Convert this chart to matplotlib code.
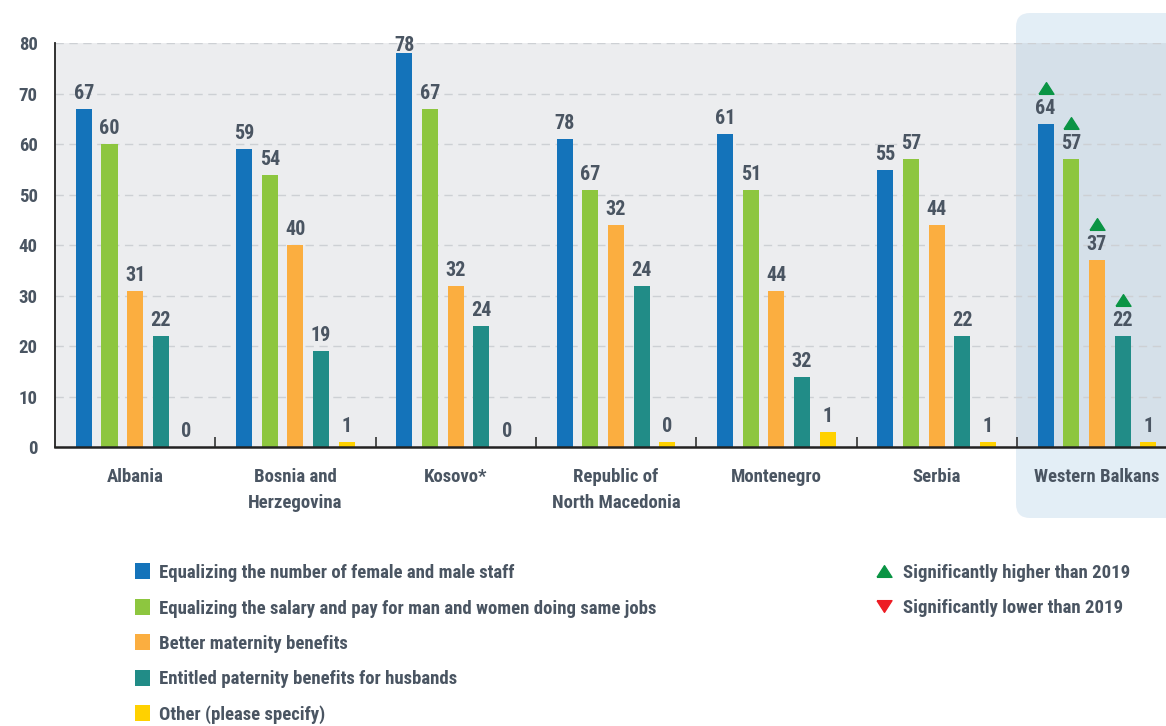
import matplotlib
matplotlib.use('Agg')
import matplotlib.pyplot as plt
from matplotlib.patches import Rectangle, FancyBboxPatch
import matplotlib.transforms as mtransforms
from matplotlib import font_manager
import numpy as np

# ---------------- data ----------------
categories = ['Albania', 'Bosnia and\nHerzegovina', 'Kosovo*', 'Republic of\nNorth Macedonia',
              'Montenegro', 'Serbia', 'Western Balkans']
series_names = ['Equalizing the number of female and male staff',
                'Equalizing the salary and pay for man and women doing same jobs',
                'Better maternity benefits',
                'Entitled paternity benefits for husbands',
                'Other (please specify)']
# bar heights as drawn
staff = [67, 59, 78, 61, 62, 55, 64]
salary = [60, 54, 67, 51, 51, 57, 57]
maternity = [31, 40, 32, 44, 31, 44, 37]
paternity = [22, 19, 24, 32, 14, 22, 22]
other = [0, 1, 0, 1, 3, 1, 1]
# value labels as printed
staff_labels = ['67', '59', '78', '78', '61', '55', '64']
salary_labels = ['60', '54', '67', '67', '51', '57', '57']
maternity_labels = ['31', '40', '32', '32', '44', '44', '37']
paternity_labels = ['22', '19', '24', '24', '32', '22', '22']
other_labels = ['0', '1', '0', '0', '1', '1', '1']
# significantly higher than 2019 markers
staff_sig = [0, 0, 0, 0, 0, 0, 1]
salary_sig = [0, 0, 0, 0, 0, 0, 1]
maternity_sig = [0, 0, 0, 0, 0, 0, 1]
paternity_sig = [0, 0, 0, 0, 0, 0, 1]
other_sig = [0, 0, 0, 0, 0, 0, 0]
yticks = [0, 10, 20, 30, 40, 50, 60, 70, 80]
sig_legend = ['Significantly higher than 2019', 'Significantly lower than 2019']

values = [staff, salary, maternity, paternity, other]
labels = [staff_labels, salary_labels, maternity_labels, paternity_labels, other_labels]
sigs = [staff_sig, salary_sig, maternity_sig, paternity_sig, other_sig]
colors = ['#1473BA', '#8DC63F', '#FBAE40', '#218C87', '#FFD100']
txt_color = '#4A5562'
up_color = '#0A9444'
down_color = '#ED1C24'

# pick a condensed bold font if available
fp_file = None
for pref in ['Liberation Sans Narrow', 'Roboto Condensed', 'Open Sans Condensed', 'DejaVu Sans']:
    for f in font_manager.fontManager.ttflist:
        if f.name == pref and f.weight in ('bold', 700, 'demibold', 600) and \
                (pref != 'DejaVu Sans' or 'Condensed' in f.fname):
            fp_file = f.fname
            break
    if fp_file:
        break
if fp_file:
    FP = font_manager.FontProperties(fname=fp_file)
else:
    FP = font_manager.FontProperties(family='DejaVu Sans', weight='bold', stretch='condensed')


def fp(size):
    p = FP.copy()
    p.set_size(size)
    return p


W, H = 1166, 726
fig = plt.figure(figsize=(W / 100, H / 100), dpi=100)
ax_left, ax_right = 55, 1166
y_base, y_top = 447.3, 43.3
ax = fig.add_axes([ax_left / W, (H - y_base) / H, (ax_right - ax_left) / W, (y_base - y_top) / H])
ax.set_facecolor('#ECEDEF')

group_px = 160.3
n = len(categories)
ax.set_xlim(0, (ax_right - ax_left) / group_px)
ax.set_ylim(0, 80)

# Western Balkans highlight box (pixel -> inches)
box = FancyBboxPatch((1016 / 100, (H - 518) / 100), 2.0, (518 - 13) / 100,
                     boxstyle='round,pad=0,rounding_size=0.14',
                     transform=fig.dpi_scale_trans, facecolor='#8EB8DA', alpha=0.24,
                     edgecolor='none', clip_on=False, zorder=0.2)
ax.add_artist(box)

centers = np.arange(n) + 0.5
step = 0.16
width = 0.10
offsets = (np.arange(5) - 2) * step

tri_verts = [(-1, -0.78), (1, -0.78), (0, 0.78), (-1, -0.78)]
tri_down = [(-1, 0.78), (1, 0.78), (0, -0.78), (-1, 0.78)]
tri_trans = mtransforms.offset_copy(ax.transData, fig=fig, y=36.5, units='dots')

for s in range(5):
    xs = centers + offsets[s]
    ax.bar(xs, values[s], width=width, color=colors[s], zorder=2, linewidth=0)
    for i in range(n):
        v = values[s][i]
        anchor = min(v, 76.5)
        ax.annotate(labels[s][i], xy=(xs[i], anchor), xytext=(0, 6), textcoords='offset pixels',
                    ha='center', va='bottom', fontproperties=fp(14.5), color=txt_color,
                    annotation_clip=False, zorder=3)
        if sigs[s][i]:
            ax.plot([xs[i]], [v], marker=tri_verts, markersize=10.8, color=up_color,
                    linestyle='none', transform=tri_trans, clip_on=False, zorder=3)

# grid
ax.set_axisbelow(True)
ax.yaxis.grid(True, color='#CDD0D4', linestyle=(0, (6, 4)), linewidth=1.0)
ax.set_yticks(yticks)
ax.set_yticklabels([str(t) for t in yticks], fontproperties=fp(13.5), color=txt_color)
ax.tick_params(axis='y', length=0, pad=12.5)

# x ticks: separators at group boundaries, labels at centers
ax.set_xticks(np.arange(1, n))
ax.set_xticklabels([])
ax.tick_params(axis='x', which='major', direction='in', length=7, width=1.2, color='#333333')
ax.set_xticks(centers, minor=True)
ax.set_xticklabels(categories, minor=True, fontproperties=fp(13.5), color=txt_color,
                   linespacing=1.55, va='top')
ax.tick_params(axis='x', which='minor', length=0, pad=15)

for sp in ['top', 'right']:
    ax.spines[sp].set_visible(False)
ax.spines['left'].set_color('#222222')
ax.spines['bottom'].set_color('#222222')
ax.spines['left'].set_linewidth(1.3)
ax.spines['bottom'].set_linewidth(1.8)

# legend (series)
row_y = [571, 606.5, 642, 677.5, 713]
for s in range(5):
    fig.patches.append(Rectangle((135 / W, (H - row_y[s] - 8) / H), 15 / W, 16 / H,
                                 transform=fig.transFigure, facecolor=colors[s], edgecolor='none'))
    fig.text(159 / W, (H - row_y[s]) / H, series_names[s], ha='left', va='center_baseline',
             fontproperties=fp(13.5), color=txt_color)

# legend (significance)
sig_rows = [571, 606]
for k, (lbl, col, vv) in enumerate(zip(sig_legend, [up_color, down_color], [tri_verts, tri_down])):
    fig.lines.append(plt.Line2D([884 / W], [(H - sig_rows[k]) / H], marker=vv, markersize=10.8,
                                color=col, linestyle='none', transform=fig.transFigure))
    fig.text(903 / W, (H - sig_rows[k]) / H, lbl, ha='left', va='center_baseline',
             fontproperties=fp(13.5), color=txt_color)

fig.savefig('out.png', dpi=100)
